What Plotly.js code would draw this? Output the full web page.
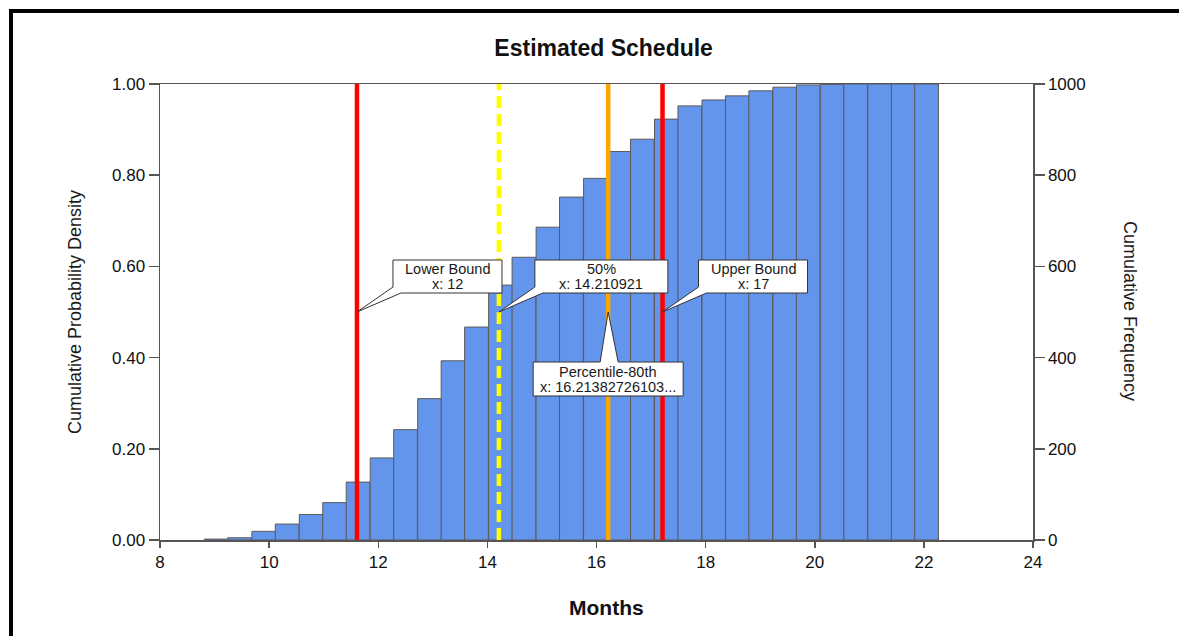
<!DOCTYPE html>
<html>
<head>
<meta charset="utf-8">
<script src="https://cdn.plot.ly/plotly-3.0.1.min.js"></script>
<style>
  html, body { margin: 0; padding: 0; background: #fff; }
  #wrap { position: relative; width: 1179px; height: 636px; overflow: hidden; }
  #chart { position: absolute; left: 0; top: 0; width: 1179px; height: 636px; }
  #frame { position: absolute; left: 9px; top: 9px; width: 1300px; height: 700px;
           border-top: 4px solid #000; border-left: 4px solid #000; pointer-events: none; }
</style>
</head>
<body>
<div id="wrap">
  <div id="chart"></div>
  <div id="frame"></div>
</div>
<script>
// ---- data ----
const binCenters = [9.03, 9.46, 9.90, 10.33, 10.77, 11.20, 11.63, 12.07, 12.50, 12.94, 13.37,
                    13.80, 14.24, 14.67, 15.11, 15.54, 15.98, 16.41, 16.84, 17.28, 17.71, 18.15,
                    18.58, 19.01, 19.45, 19.88, 20.32, 20.75, 21.19, 21.62, 22.05];
const binWidth = 0.434;
const cumProbability = [0.002, 0.005, 0.019, 0.035, 0.056, 0.082, 0.127, 0.180, 0.242, 0.310, 0.393,
                        0.467, 0.559, 0.620, 0.686, 0.752, 0.793, 0.852, 0.879, 0.923, 0.952, 0.965,
                        0.974, 0.985, 0.993, 0.998, 0.999, 1.000, 1.000, 1.000, 1.000];

const markerNames  = ['Lower Bound', '50%', 'Percentile-80th', 'Upper Bound'];
const markerValues = [11.61, 14.210921, 16.2138272610, 17.21];
const markerLabels = ['x: 12', 'x: 14.210921', 'x: 16.21382726103...', 'x: 17'];
const markerColors = ['#ff0000', '#ffff00', '#ffa500', '#ff0000'];
const markerDashes = ['solid', '12px,6px', 'solid', 'solid'];
const calloutTipProb = 0.5;

const xTicks = [8, 10, 12, 14, 16, 18, 20, 22, 24];
const yTicks = [0, 0.2, 0.4, 0.6, 0.8, 1.0];
const y2Ticks = [0, 200, 400, 600, 800, 1000];

// ---- layout geometry ----
const W = 1179, H = 636;
const M = {l: 160, r: 146, t: 84, b: 96};
const plotW = W - M.l - M.r, plotH = H - M.t - M.b;
const xMin = 8, xMax = 24;
const dxPx = px => px * (xMax - xMin) / plotW;     // pixel offset -> x units
const dyPx = px => -px / plotH;                     // pixel offset (down +) -> y units

const fontFam = '"Liberation Sans", Arial, sans-serif';

const traces = [
  {
    type: 'bar', x: binCenters, y: cumProbability, width: binWidth,
    marker: {color: '#6495ed', line: {color: '#5a5a5a', width: 1}},
    hoverinfo: 'x+y', showlegend: false
  },
  { type: 'scatter', x: [null], y: [null], yaxis: 'y2', showlegend: false, hoverinfo: 'skip' }
];

const shapes = [];
const annotations = [];

// vertical marker lines
markerValues.forEach((v, i) => {
  shapes.push({
    type: 'line', xref: 'x', yref: 'paper', x0: v, x1: v, y0: 0, y1: 1,
    line: {color: markerColors[i], width: 4.5, dash: markerDashes[i]}, layer: 'above'
  });
});

// callout bubbles (pixel geometry relative to the tip)
function pathFrom(tipX, pts) {
  return pts.map((p, k) => (k === 0 ? 'M' : 'L') + (tipX + dxPx(p[0])).toFixed(5) + ',' +
                 (calloutTipProb + dyPx(p[1])).toFixed(5)).join(' ') + ' Z';
}
const boxWidths = {0: 109, 1: 133, 3: 109};
markerValues.forEach((v, i) => {
  let pts, cx, cy;
  if (i === 2) {
    const L = -75, R = 75, T = 50, B = 84;
    pts = [[L, T], [-8, T], [0, 0], [10, T], [R, T], [R, B], [L, B]];
    cx = 0; cy = (T + B) / 2;
  } else {
    const L = 36, R = 36 + boxWidths[i], T = -52, B = -19;
    pts = [[L, T], [R, T], [R, B], [L + 8, B], [0, 0], [L, B - 6]];
    cx = (L + R) / 2; cy = (T + B) / 2;
  }
  shapes.push({
    type: 'path', xref: 'x', yref: 'y', path: pathFrom(v, pts),
    fillcolor: '#ffffff', line: {color: '#333333', width: 1}, layer: 'above'
  });
  [markerNames[i], markerLabels[i]].forEach((t, j) => {
    annotations.push({
      xref: 'x', yref: 'y', x: v, y: calloutTipProb, text: t, showarrow: false,
      xanchor: 'center', yanchor: 'middle',
      xshift: cx, yshift: -(cy + (j === 0 ? -7.5 : 7.5)),
      font: {family: fontFam, size: 14.5, color: '#1a1a1a'}
    });
  });
});

// axis titles as annotations
annotations.push({
  xref: 'paper', yref: 'paper', x: 0, y: 0.5, xshift: -85, showarrow: false,
  xanchor: 'center', yanchor: 'middle',
  text: 'Cumulative Probability Density', textangle: -90,
  font: {family: fontFam, size: 18, color: '#1a1a1a'}
});
annotations.push({
  xref: 'paper', yref: 'paper', x: 1, y: 0.5, xshift: 97, yshift: 1, showarrow: false,
  xanchor: 'center', yanchor: 'middle',
  text: 'Cumulative Frequency', textangle: 90,
  font: {family: fontFam, size: 18, color: '#1a1a1a'}
});
annotations.push({
  xref: 'paper', yref: 'paper', x: 0.5, y: 0, xshift: 10, yshift: -67, showarrow: false,
  xanchor: 'center', yanchor: 'middle',
  text: '<b>Months</b>',
  font: {family: fontFam, size: 21, color: '#111'}
});

const axisCommon = {
  showgrid: false, zeroline: false, showline: true, linecolor: '#555', linewidth: 1.5,
  ticks: 'outside', tickcolor: '#555', tickwidth: 1.5,
  tickfont: {family: fontFam, size: 17, color: '#111'}
};

const layout = {
  width: W, height: H,
  margin: M,
  paper_bgcolor: '#ffffff', plot_bgcolor: '#ffffff',
  bargap: 0,
  title: {
    text: '<b>Estimated Schedule</b>', x: 0.512, xanchor: 'center',
    y: 1 - 48 / H, yanchor: 'middle', yref: 'container',
    font: {family: fontFam, size: 23, color: '#111'}
  },
  xaxis: Object.assign({}, axisCommon, {
    range: [xMin, xMax], tickvals: xTicks, ticklen: 6, mirror: true
  }),
  yaxis: Object.assign({}, axisCommon, {
    range: [0, 1], tickvals: yTicks, tickformat: '.2f', ticklen: 10, mirror: true
  }),
  yaxis2: Object.assign({}, axisCommon, {
    range: [0, 1000], tickvals: y2Ticks, ticklen: 10, overlaying: 'y', side: 'right'
  }),
  shapes: shapes,
  annotations: annotations,
  showlegend: false
};

Plotly.newPlot('chart', traces, layout, {displayModeBar: false, staticPlot: true});
</script>
</body>
</html>
